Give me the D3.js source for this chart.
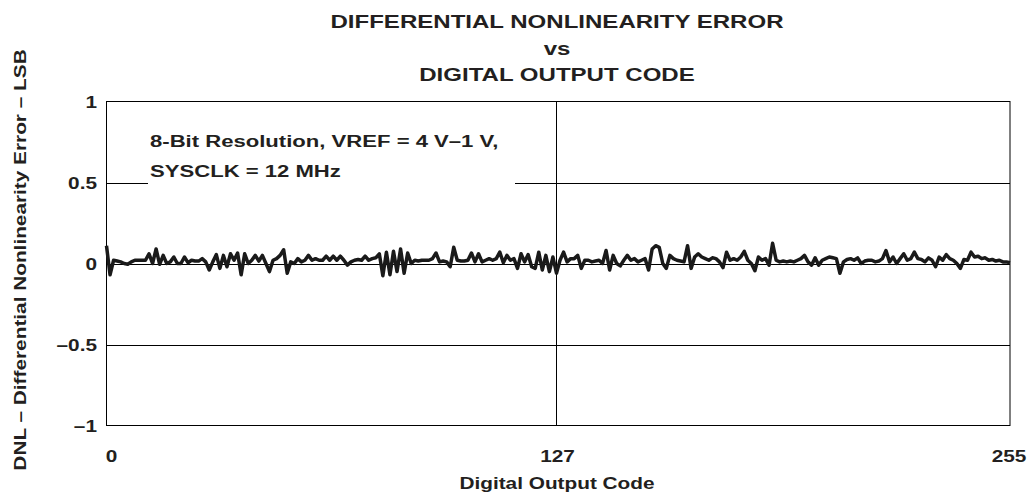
<!DOCTYPE html>
<html>
<head>
<meta charset="utf-8">
<script src="https://cdn.jsdelivr.net/npm/d3@7"></script>
<style>
	body { margin: 0; background: #fff; }
	text { font-family: "Liberation Sans", Arial, sans-serif; font-weight: bold; fill: #231f20; }
</style>
</head>
<body>
<script>
// DNL per code, 0..255 (16 codes per row)
var dnl = [
	0.11, -0.07, 0.02, 0.015, 0.01, 0.0, -0.005, 0.01, 0.02, 0.02, 0.02, 0.02, 0.06, 0.0, 0.09, -0.005,
	0.05, 0.0, 0.01, 0.04, 0.0, 0.0, 0.04, 0.005, 0.02, 0.015, 0.015, 0.03, 0.01, -0.04, 0.01, 0.055,
	-0.03, 0.05, -0.02, 0.06, 0.02, 0.065, -0.07, 0.06, 0.0, 0.02, 0.05, 0.015, 0.05, 0.0, -0.05, 0.02,
	0.03, 0.05, 0.085, -0.06, 0.01, 0.0, 0.03, 0.01, 0.02, 0.05, 0.02, 0.03, 0.02, 0.02, 0.045, 0.02,
	0.045, 0.02, 0.045, 0.02, -0.01, 0.01, 0.02, 0.025, 0.02, 0.045, 0.02, 0.03, 0.035, 0.06, -0.075, 0.07,
	-0.07, 0.075, -0.05, 0.09, -0.06, 0.065, 0.0, 0.02, 0.015, 0.02, 0.02, 0.02, 0.03, 0.065, 0.01, 0.015,
	0.01, -0.02, 0.1, 0.02, 0.015, 0.015, 0.02, 0.065, 0.01, 0.06, 0.01, 0.02, 0.03, 0.02, 0.03, 0.07,
	0.005, 0.05, 0.02, 0.03, -0.03, 0.06, 0.01, 0.055, -0.02, -0.03, 0.07, -0.04, 0.05, -0.05, 0.04, -0.06,
	0.02, 0.07, 0.01, 0.03, 0.03, 0.05, -0.03, 0.02, 0.02, 0.01, 0.015, 0.02, 0.0, 0.08, -0.04, 0.05,
	0.0, -0.015, 0.02, 0.05, 0.02, 0.03, 0.01, 0.02, 0.03, -0.04, 0.09, 0.11, 0.1, 0.0, -0.03, 0.05,
	0.03, 0.02, 0.015, 0.01, 0.11, -0.03, 0.04, 0.06, 0.04, 0.03, 0.02, 0.035, 0.03, 0.01, -0.025, 0.07,
	0.02, 0.03, 0.02, 0.04, 0.075, 0.02, 0.0, -0.045, 0.04, 0.02, 0.03, -0.01, 0.125, 0.02, 0.01, 0.015,
	0.01, 0.015, 0.01, 0.02, 0.03, 0.05, 0.01, -0.01, 0.035, -0.01, 0.02, 0.03, 0.04, 0.035, 0.03, -0.06,
	0.01, 0.025, 0.03, 0.02, 0.035, 0.0, 0.015, 0.02, 0.02, 0.01, 0.015, 0.03, 0.08, 0.01, 0.04, 0.0,
	0.03, 0.06, 0.02, 0.03, 0.07, 0.03, 0.025, 0.01, 0.035, 0.02, -0.02, 0.04, 0.02, 0.055, 0.03, 0.02,
	0.0, -0.03, 0.025, 0.02, 0.07, 0.04, 0.045, 0.03, 0.035, 0.02, 0.025, 0.015, 0.02, 0.01, 0.01, 0.005
];

var xTicks = [0, 127, 255];
var yTicks = [1, 0.5, 0, -0.5, -1];
var yTickLabels = ["1", "0.5", "0", "\u20130.5", "\u20131"];
var titleLines = ["DIFFERENTIAL NONLINEARITY ERROR", "vs", "DIGITAL OUTPUT CODE"];
var noteLines = ["8-Bit Resolution, VREF = 4 V\u20131 V,", "SYSCLK = 12 MHz"];

var W = 1031, H = 493;
var plot = { left: 106.5, right: 1010, top: 101.5, bottom: 425.5 };
var stretch = 1.3; // the source lettering is set wide

var svg = d3.select("body").append("svg")
	.attr("width", W)
	.attr("height", H);

var x = d3.scaleLinear()
	.domain([0, 255])
	.range([plot.left, plot.right]);

var y = d3.scaleLinear()
	.domain([-1, 1])
	.range([plot.bottom, plot.top]);

function wideText(g, tx, ty, str, size, anchor, rot) {
	return g.append("text")
		.attr("transform", "translate(" + tx + "," + ty + ")" + (rot ? " rotate(" + rot + ")" : "") + " scale(" + stretch + ",1)")
		.attr("text-anchor", anchor || "start")
		.style("font-size", size + "px")
		.text(str);
}

// grid lines
svg.append("g")
	.selectAll("line.h")
	.data([0.5, 0, -0.5])
	.enter().append("line")
	.attr("x1", plot.left)
	.attr("x2", plot.right)
	.attr("y1", function(d) { return Math.round(y(d)) + 0.5; })
	.attr("y2", function(d) { return Math.round(y(d)) + 0.5; })
	.attr("stroke", "#000")
	.attr("stroke-width", 1);

svg.append("line")
	.attr("x1", Math.round(x(127)) + 0.5)
	.attr("x2", Math.round(x(127)) + 0.5)
	.attr("y1", plot.top)
	.attr("y2", plot.bottom)
	.attr("stroke", "#000")
	.attr("stroke-width", 1);

// annotation (blanks the 0.5 grid line behind it)
svg.append("rect")
	.attr("x", 148)
	.attr("y", 124)
	.attr("width", 367)
	.attr("height", 64)
	.attr("fill", "#fff");

noteLines.forEach(function(d, i) {
	wideText(svg, 150, 147 + i * 30, d, 17);
});

// frame
svg.append("rect")
	.attr("x", plot.left)
	.attr("y", plot.top)
	.attr("width", plot.right - plot.left)
	.attr("height", plot.bottom - plot.top)
	.attr("fill", "none")
	.attr("stroke", "#000")
	.attr("stroke-width", 1);

// data
var line = d3.line()
	.x(function(d, i) { return x(i); })
	.y(function(d) { return y(d); });

svg.append("path")
	.datum(dnl)
	.attr("fill", "none")
	.attr("stroke", "#1a1a1a")
	.attr("stroke-width", 3.5)
	.attr("stroke-linejoin", "round")
	.attr("d", line);

// y tick labels
yTicks.forEach(function(d, i) {
	wideText(svg, 97, y(d) + 6, yTickLabels[i], 16, "end");
});

// x tick labels
xTicks.forEach(function(d, i) {
	var off = i === 0 ? 5 : (i === xTicks.length - 1 ? -1 : 1);
	wideText(svg, x(d) + off, 462, String(d), 16, "middle");
});

// titles
titleLines.forEach(function(d, i) {
	wideText(svg, 557, 28 + i * 26.5, d, 18.5, "middle");
});

wideText(svg, 557, 489, "Digital Output Code", 16, "middle");
wideText(svg, 26, 260, "DNL \u2013 Differential Nonlinearity Error \u2013 LSB", 16, "middle", -90);
</script>
</body>
</html>
